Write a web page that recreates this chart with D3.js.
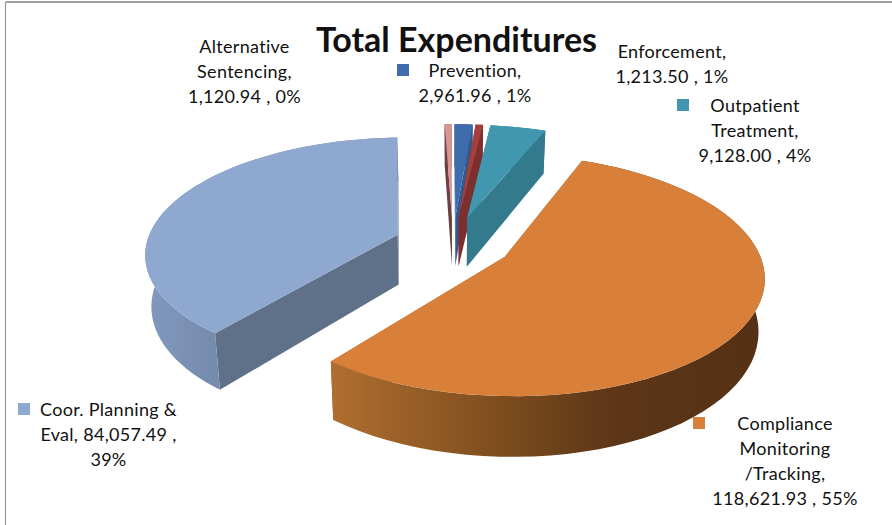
<!DOCTYPE html>
<html><head><meta charset="utf-8">
<script src="https://cdn.jsdelivr.net/npm/d3@7"></script>
<style>html,body{margin:0;padding:0;background:#fff}svg{display:block}text{font-family:Lato,"Open Sans",sans-serif;fill:#111}</style>
</head><body><svg id="c" width="892" height="525"></svg>
<script>
const categories=["Alternative Sentencing","Prevention","Enforcement","Outpatient Treatment","Compliance Monitoring /Tracking","Coor. Planning & Eval"];
const values=[1120.94,2961.96,1213.50,9128.00,118621.93,84057.49];
const valueLabels=["1,120.94","2,961.96","1,213.50","9,128.00","118,621.93","84,057.49"];
const percentLabels=["0%","1%","1%","4%","55%","39%"];
const colors=["#d99694","#3f6cad","#a53f3e","#4197b0","#d8803a","#8fa8cf"];
const sideColors=["#6b4040","#34598e","#7d2f2e","#337a8c","#a8652c","#5f7089"];
const titleText="Total Expenditures";

const W=892,H=525;
const svg=d3.select("#c");
// frame: only the top and left edges show in the reference
svg.append("line").attr("x1",5.5).attr("x2",W).attr("y1",2).attr("y2",2).attr("stroke","#a0a0a0").attr("stroke-width",2);
svg.append("line").attr("x1",5.5).attr("x2",5.5).attr("y1",2).attr("y2",H).attr("stroke","#9a9a9a").attr("stroke-width",1.2);

// projection of a tilted plane
const P={cx:453,cy:243,R:251,B:114,k:0.15,h:50.5,e:0.235,rot:-2*Math.PI/180};
function project(X,Z,low){
  const s=1/(1+P.k*Z);
  const shrink=low?0.98:1;
  return [P.cx+X*P.R*s*shrink, P.cy-Z*P.B*s+(low?P.h*s:0)];
}
const pie=d3.pie().sort(null).value(d=>d).startAngle(P.rot).endAngle(P.rot+2*Math.PI);
const arcs=pie(values);
const defs=svg.append("defs");
const grad=(id,stops)=>{const g=defs.append("linearGradient").attr("id",id).attr("gradientUnits","userSpaceOnUse")
  .attr("x1",330).attr("x2",770).attr("y1",0).attr("y2",0);
  stops.forEach(s=>g.append("stop").attr("offset",s[0]).attr("stop-color",s[1]));};
grad("orangeWall",[[0,"#b06f30"],[0.35,"#82501f"],[0.65,"#5c3617"],[1,"#553014"]]);
const g2=defs.append("linearGradient").attr("id","blueWall").attr("gradientUnits","userSpaceOnUse").attr("x1",146).attr("x2",225).attr("y1",0).attr("y2",0);
g2.append("stop").attr("offset",0).attr("stop-color","#8199bd");
g2.append("stop").attr("offset",1).attr("stop-color","#7489ac");
const wallFill=i=>i===4?"url(#orangeWall)":i===5?"url(#blueWall)":sideColors[i];
const line=d3.line();
const group=svg.append("g");
arcs.forEach((a,i)=>{
  const m=(a.startAngle+a.endAngle)/2, ex=P.e*Math.sin(m), ez=P.e*Math.cos(m);
  const angs=d3.range(0,61).map(t=>a.startAngle+(a.endAngle-a.startAngle)*t/60);
  const rim=angs.map(t=>[ex+Math.sin(t),ez+Math.cos(t)]);
  const top=rim.map(p=>project(p[0],p[1],false));
  const bot=rim.map(p=>project(p[0],p[1],true));
  const apexT=project(ex,ez,false), apexB=project(ex,ez,true);
  const gS=group.append("g");
  // cut faces, then outer wall, then the top
  gS.append("path").attr("d",line([apexT,top[0],bot[0],apexB])+"Z").attr("fill",sideColors[i]);
  gS.append("path").attr("d",line([apexT,top[60],bot[60],apexB])+"Z").attr("fill",sideColors[i]);
  gS.append("path").attr("d",line(top.concat(bot.slice().reverse()))+"Z").attr("fill",wallFill(i));
  gS.append("path").attr("d",line([apexT].concat(top))+"Z").attr("fill",colors[i]);
});

// title
svg.append("text").attr("x",456.5).attr("y",52).attr("text-anchor","middle")
  .style("font-weight",700).style("font-size","34px").text(titleText);

// labels
const fs=18;
const labelSpecs=[
 {i:0,x:244.5,y:53,lines:["Alternative","Sentencing,",valueLabels[0]+" , "+percentLabels[0]]},
 {i:1,x:475,y:77,lines:["Prevention,",valueLabels[1]+" , "+percentLabels[1]],mark:[397,64]},
 {i:2,x:672,y:58,lines:["Enforcement,",valueLabels[2]+" , "+percentLabels[2]]},
 {i:3,x:755,y:112,lines:["Outpatient","Treatment,",valueLabels[3]+" , "+percentLabels[3]],mark:[677,99]},
 {i:4,x:785,y:430,lines:["Compliance","Monitoring","/Tracking,",valueLabels[4]+" , "+percentLabels[4]],mark:[693,417]},
 {i:5,x:108.5,y:416,lines:["Coor. Planning &","Eval, "+valueLabels[5]+" ,",percentLabels[5]],mark:[18,403]}
];
labelSpecs.forEach(l=>{
  const t=svg.append("text").attr("text-anchor","middle").style("font-size",fs+"px").style("letter-spacing","0.3px");
  l.lines.forEach((s,j)=>t.append("tspan").attr("x",l.x).attr("y",l.y+j*25).text(s));
  if(l.mark) svg.append("rect").attr("x",l.mark[0]).attr("y",l.mark[1]).attr("width",12).attr("height",12).attr("fill",colors[l.i]);
});
</script></body></html>
